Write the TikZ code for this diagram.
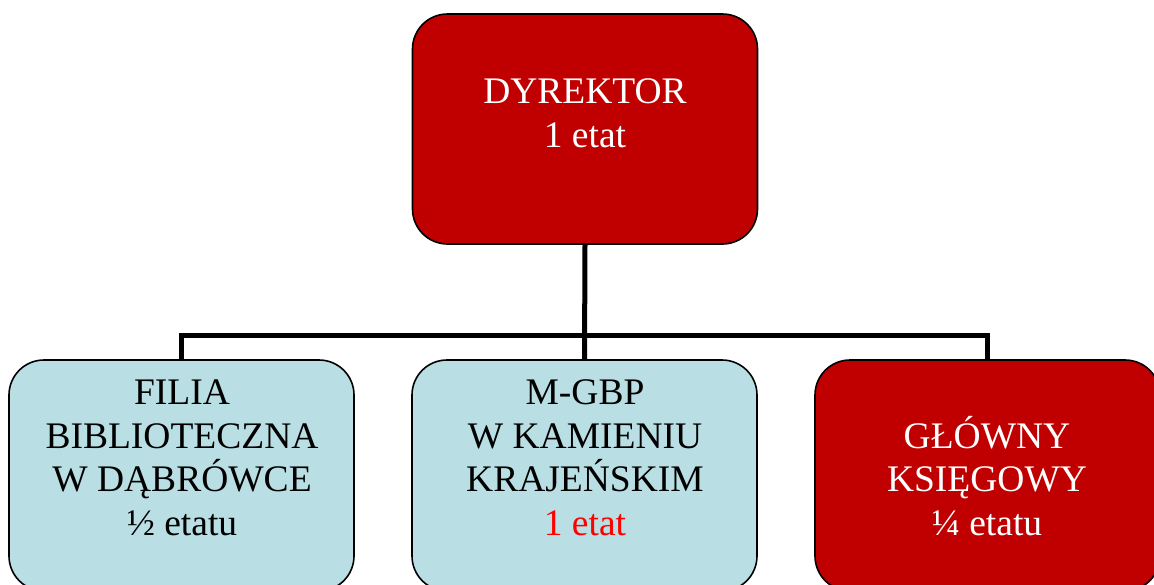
\documentclass[tikz,border=0pt]{standalone}
\usepackage{fontspec}
\setmainfont{Liberation Serif}
\definecolor{boxred}{HTML}{C00000}
\definecolor{boxblue}{HTML}{B9DFE4}
\definecolor{txtred}{HTML}{FF0000}
\begin{document}
\begin{tikzpicture}[x=1pt,y=-1pt,
  box/.style={draw=black,line width=1.6pt,rounded corners=35pt,minimum width=345pt,minimum height=231pt,inner sep=0pt},
  redbox/.style={box,fill=boxred},
  bluebox/.style={box,fill=boxblue},
  txt/.style={anchor=base,align=center,inner sep=0pt,font=\fontsize{37.5}{43.5}\selectfont},
  conn/.style={draw=black,line width=5pt}
]
\useasboundingbox (0,0) rectangle (1154,584);
\clip (0,0) rectangle (1154,584);
\coordinate (bus) at (585,335);
\node[redbox,minimum height=230pt] (top) at (585,129) {};
\node[bluebox] (left) at (181.5,475.5) {};
\node[bluebox] (mid) at (584.5,475.5) {};
\node[redbox] (right) at (987.5,475.5) {};
\draw[conn] (top.south) -- (mid.north);
\draw[conn] (left.north) |- (bus) -| (right.north);
\node[txt,text=white] (ttop) at (585,147) {DYREKTOR\\1 etat};
\node[txt] (tleft) at (182,535) {FILIA\\BIBLIOTECZNA\\W DĄBRÓWCE\\½ etatu};
\node[txt] (tmid) at (585,535) {M-GBP\\W KAMIENIU\\KRAJEŃSKIM\\\textcolor{txtred}{1 etat}};
\node[txt,text=white] (tright) at (987,535) {GŁÓWNY\\KSIĘGOWY\\¼ etatu};
\end{tikzpicture}
\end{document}
